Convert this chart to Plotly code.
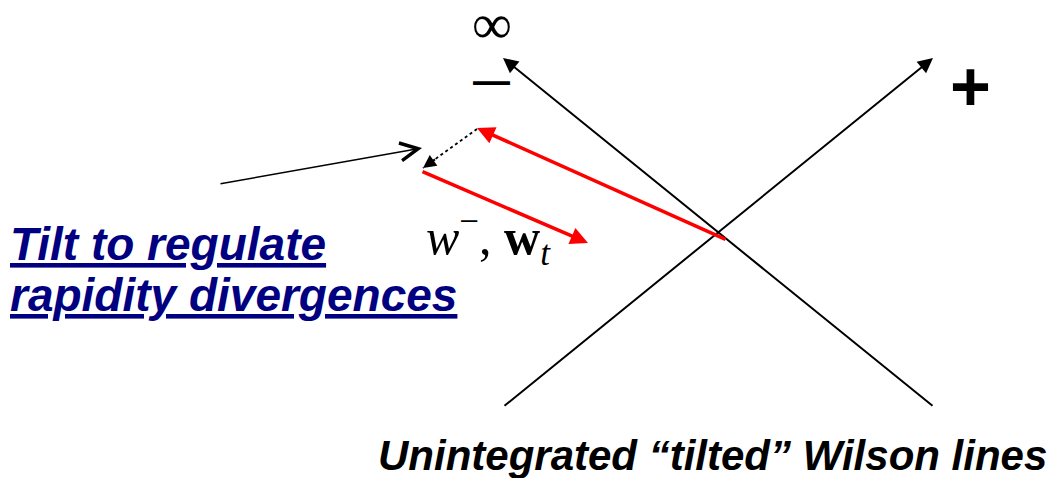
import plotly.graph_objects as go

# Diagram geometry (diagram coordinates: x to the right, y downward)
minus_line_x = [934, 503]
minus_line_y = [407, 58]
plus_line_x = [503, 933]
plus_line_y = [407, 58]
red_long_x = [727, 477]
red_long_y = [240, 128]
red_short_x = [421, 588]
red_short_y = [171, 243]
dotted_x = [477, 423]
dotted_y = [129, 168]
pointer_x = [219, 422]
pointer_y = [184, 148]

W, H = 1052, 478

fig = go.Figure()

# dotted connector line
fig.add_trace(go.Scatter(x=dotted_x, y=dotted_y, mode="lines",
                         line=dict(color="black", width=1.8, dash="dot"),
                         hoverinfo="skip", showlegend=False))

def arrow(xs, ys, color, width, head, size):
    fig.add_annotation(x=xs[1], y=ys[1], ax=xs[0], ay=ys[0],
                       xref="x", yref="y", axref="x", ayref="y",
                       text="", showarrow=True, arrowhead=head,
                       arrowsize=size, arrowwidth=width, arrowcolor=color,
                       standoff=0, startstandoff=0)

arrow(minus_line_x, minus_line_y, "black", 2, 2, 1.5)
arrow(plus_line_x, plus_line_y, "black", 2, 2, 1.5)
arrow(red_long_x, red_long_y, "#ff0000", 3.5, 2, 1.0)
arrow(red_short_x, red_short_y, "#ff0000", 3.5, 2, 1.0)
arrow(pointer_x, pointer_y, "black", 1.6, 5, 2.2)
# head of dotted arrow (short shaft along its direction)
dx = dotted_x[1] - dotted_x[0]
dy = dotted_y[1] - dotted_y[0]
arrow([dotted_x[1] - dx * 0.25, dotted_x[1]], [dotted_y[1] - dy * 0.25, dotted_y[1]],
      "black", 2, 2, 1.3)

sans = "Liberation Sans, Arial, sans-serif"
serif = "Liberation Serif, DejaVu Serif, serif"

fig.add_annotation(x=492, y=24, text="∞", showarrow=False,
                   font=dict(family=serif, size=56, color="black"))
fig.add_annotation(x=491, y=80, text="<b>—</b>", showarrow=False,
                   font=dict(family=sans, size=37, color="black"))
fig.add_annotation(x=970, y=87, text="<b>+</b>", showarrow=False,
                   font=dict(family=sans, size=70, color="black"))

fig.add_annotation(x=8, y=244, xanchor="left", text="<b><i><u>Tilt to regulate</u></i></b>",
                   showarrow=False, font=dict(family=sans, size=46, color="#000080"))
fig.add_annotation(x=8, y=295, xanchor="left", text="<b><i><u>rapidity divergences</u></i></b>",
                   showarrow=False, font=dict(family=sans, size=46, color="#000080"))

fig.add_annotation(x=488, y=237, text="<i>w</i><sup>−</sup>, <b>w</b><sub><i>t</i></sub>",
                   showarrow=False, font=dict(family=serif, size=50, color="black"))

fig.add_annotation(x=1049, y=455, xanchor="right",
                   text="<b><i>Unintegrated “tilted” Wilson lines</i></b>",
                   showarrow=False, font=dict(family=sans, size=42, color="black"))

fig.update_layout(width=W, height=H, margin=dict(l=0, r=0, t=0, b=0),
                  paper_bgcolor="white", plot_bgcolor="white",
                  xaxis=dict(range=[0, W], visible=False, fixedrange=True),
                  yaxis=dict(range=[H, 0], visible=False, fixedrange=True),
                  showlegend=False)

fig.write_html("out.html", config={"displayModeBar": False},
               post_script="document.body.style.margin='0';document.body.style.overflow='hidden';")
